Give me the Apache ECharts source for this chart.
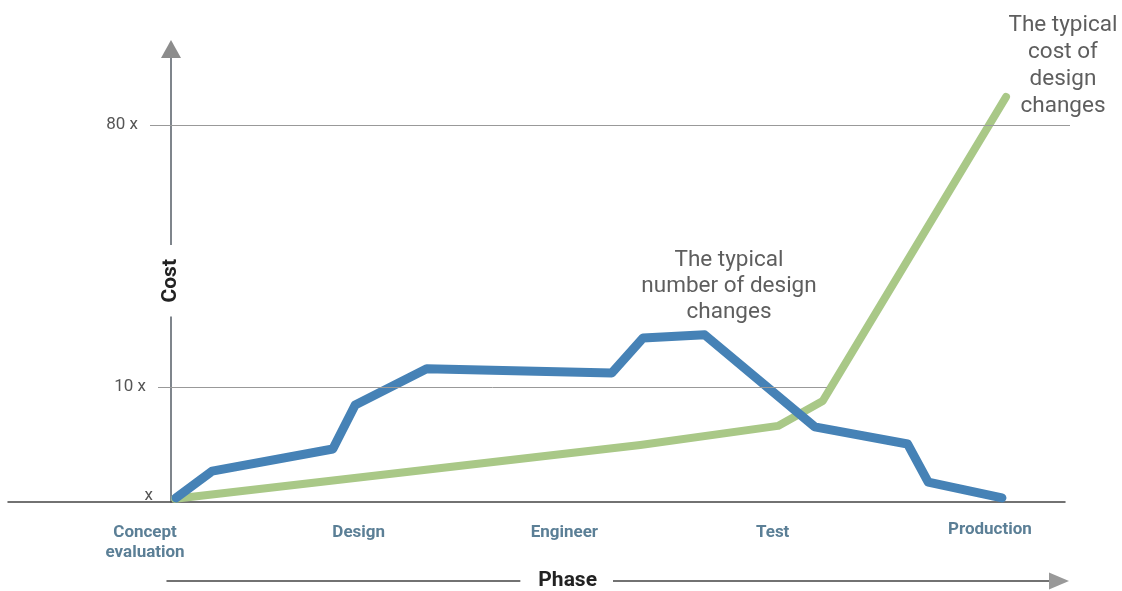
<!DOCTYPE html>
<html><head><meta charset="utf-8">
<script src="https://cdn.jsdelivr.net/npm/echarts@6/dist/echarts.min.js"></script>
<style>html,body{margin:0;padding:0;background:#fff}#c{width:1122px;height:591px}</style>
</head><body><div id="c"></div>
<script>
// ---- data ----
const phaseNames = ['Concept\nevaluation', 'Design', 'Engineer', 'Test', 'Production'];
const phasePositions = [-2.9, 21.0, 44.0, 67.3, 91.6];
const costTickValues = [0, 25.4, 83.2];
const costTickLabels = ['x', '10 x', '80 x'];
const changesX = [0.56, 4.6, 18.1, 20.6, 28.6, 49.3, 52.8, 59.7, 72.0, 82.4, 84.7, 92.95];
const changesY = [0.9, 6.8, 11.7, 21.4, 29.4, 28.5, 36.2, 36.9, 16.6, 12.8, 4.4, 0.9];
const costX = [0.45, 52.5, 67.9, 72.9, 93.4];
const costY = [0.7, 12.6, 16.8, 22.3, 89.4];
const annoChanges = 'The typical\nnumber of design\nchanges';
const annoCost = 'The typical\ncost of\ndesign\nchanges';

// ---- styling ----
const FONT = 'Roboto';
const gridLineExtent = { 2: [150, 1070], 1: [158, 827] }; // pixel x extents of guide lines

const chart = echarts.init(document.getElementById('c'), null, { renderer: 'canvas' });

const guideLines = [1, 2].map(i => [
  { x: gridLineExtent[i][0], yAxis: costTickValues[i], name: costTickLabels[i] },
  { x: gridLineExtent[i][1], yAxis: costTickValues[i] }
]);

const hidden = { axisTick: { show: false }, splitLine: { show: false }, axisLabel: { show: false } };

chart.setOption({
  animation: false,
  backgroundColor: '#fff',
  textStyle: { fontFamily: FONT },
  grid: [
    { left: 171, right: 57, top: 49, bottom: 89, outerBoundsMode: 'none', containLabel: false },  // plot
    { left: 167, right: 63, top: 540, bottom: 10, outerBoundsMode: 'none', containLabel: false }, // phase arrow
    { left: 8, right: 57, top: 49, bottom: 89, outerBoundsMode: 'none', containLabel: false }     // baseline + phase labels
  ],
  xAxis: [
    Object.assign({ gridIndex: 0, type: 'value', min: 0, max: 100, axisLine: { show: false } }, hidden),
    Object.assign({
      gridIndex: 1, type: 'value', min: 0, max: 1, position: 'bottom',
      axisLine: { show: true, onZero: false, lineStyle: { color: '#444', width: 1.5 } }
    }, hidden),
    Object.assign({
      gridIndex: 1, type: 'value', min: 0, max: 1, position: 'bottom',
      axisLine: { show: true, onZero: false, symbol: ['none', 'triangle'], symbolSize: [17, 20],
        lineStyle: { color: '#999', width: 0 } },
      name: 'Phase', nameLocation: 'start', nameGap: -446,
      nameTextStyle: { fontSize: 21, fontWeight: 'bold', color: '#222', fontFamily: FONT,
        backgroundColor: '#fff', padding: [2, 16, 2, 18] }
    }, hidden),
    {
      gridIndex: 2, type: 'value', min: -18.23, max: 100, position: 'bottom',
      axisLine: { show: true, onZero: false, lineStyle: { color: '#444', width: 1.5 } },
      axisTick: { show: false }, splitLine: { show: false },
      axisLabel: {
        customValues: phasePositions,
        margin: 21,
        color: '#5b7f96', fontSize: 17, fontWeight: 'bold', lineHeight: 20, fontFamily: FONT,
        formatter: v => {
          const i = phasePositions.indexOf(v);
          if (i < 0) return '';
          return i === phaseNames.length - 1 ? '{p|' + phaseNames[i] + '}' : phaseNames[i];
        },
        rich: { p: { color: '#5b7f96', fontSize: 17, fontWeight: 'bold', lineHeight: 14, fontFamily: FONT } }
      }
    }
  ],
  yAxis: [
    {
      gridIndex: 0, type: 'value', min: 0, max: 100, position: 'left',
      axisLine: { show: true, onZero: false, lineStyle: { color: '#555d66', width: 1.5 } },
      axisTick: { show: false }, splitLine: { show: false },
      axisLabel: {
        customValues: [costTickValues[0]], margin: 18, verticalAlign: 'bottom',
        color: '#555', fontSize: 17, fontFamily: FONT, lineHeight: 12,
        formatter: v => costTickLabels[costTickValues.indexOf(v)] || ''
      }
    },
    Object.assign({
      gridIndex: 0, type: 'value', min: 0, max: 100, position: 'left',
      axisLine: { show: true, onZero: false, symbol: ['none', 'triangle'], symbolSize: [20, 18],
        lineStyle: { color: '#8c8c8c', width: 0 } },
      name: 'Cost', nameLocation: 'start', nameRotate: 90, nameGap: -257,
      nameTextStyle: { fontSize: 21, fontWeight: 'bold', color: '#222', fontFamily: FONT, lineHeight: 20,
        backgroundColor: '#fff', padding: [0, 14, 8, 14] }
    }, hidden),
    { gridIndex: 1, type: 'value', show: false, min: 0, max: 1 },
    { gridIndex: 2, type: 'value', show: false, min: 0, max: 100 }
  ],
  series: [
    {
      type: 'line', xAxisIndex: 0, yAxisIndex: 0, data: [], z: 1, silent: true,
      markLine: {
        silent: true, symbol: 'none',
        lineStyle: { color: '#999', width: 1, type: 'solid' },
        label: { show: true, position: 'start', distance: 12, formatter: '{b}',
          color: '#555', fontSize: 17, fontFamily: FONT, padding: [4, 0, 0, 0] },
        emphasis: { disabled: true },
        data: guideLines
      }
    },
    {
      name: 'Cost of design changes', type: 'line', xAxisIndex: 0, yAxisIndex: 0, z: 3,
      showSymbol: false, silent: true, clip: false,
      data: costX.map((x, i) => [x, costY[i]]),
      lineStyle: { color: '#a9c887', width: 8, cap: 'round', join: 'round' }
    },
    {
      name: 'Number of design changes', type: 'line', xAxisIndex: 0, yAxisIndex: 0, z: 4,
      showSymbol: false, silent: true, clip: false,
      data: changesX.map((x, i) => [x, changesY[i]]),
      lineStyle: { color: '#4682b6', width: 9, cap: 'round', join: 'round' }
    }
  ],
  graphic: [
    { type: 'text', x: 729, y: 286, silent: true,
      style: { text: annoChanges, textAlign: 'center', textVerticalAlign: 'middle',
        font: '22.5px Roboto', lineHeight: 26, fill: '#5e5e5e' } },
    { type: 'text', x: 1063, y: 66, silent: true,
      style: { text: annoCost, textAlign: 'center', textVerticalAlign: 'middle',
        font: '22.5px Roboto', lineHeight: 27, fill: '#5e5e5e' } }
  ]
});
</script>
</body></html>
